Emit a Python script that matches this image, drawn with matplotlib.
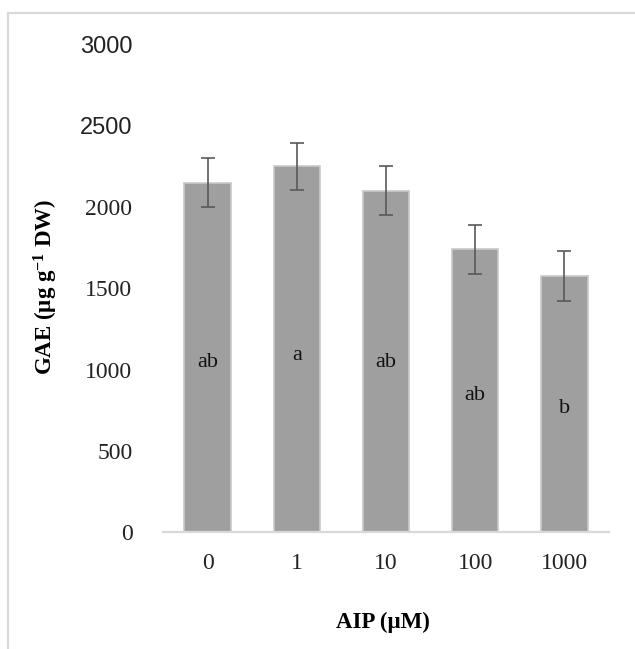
import matplotlib.pyplot as plt
from matplotlib.lines import Line2D

# data
doses = ["0", "1", "10", "100", "1000"]
gae = [2150, 2250, 2100, 1740, 1575]
gae_err = [150, 145, 150, 152, 152]
letters = ["ab", "a", "ab", "ab", "b"]
letter_y = [1046, 1089, 1046, 843, 763]
yticks = [0, 500, 1000, 1500, 2000, 2500, 3000]

plt.rcParams["mathtext.default"] = "regular"

W, H = 635, 649
fig = plt.figure(figsize=(W / 100, H / 100), dpi=100)
fig.patch.set_facecolor("white")

# light grey frame around the chart (left and top visible)
fx, fy = 8 / W, 1 - 12.5 / H
fig.add_artist(Line2D([fx, fx], [0, fy], transform=fig.transFigure, color="#d9d9d9", lw=1.6))
fig.add_artist(Line2D([fx, 1], [fy, fy], transform=fig.transFigure, color="#d9d9d9", lw=1.6))

left, right = 163 / W, 609 / W
bottom, top = 1 - 532 / H, 1 - 44.5 / H
ax = fig.add_axes([left, bottom, right - left, top - bottom])

x = range(len(doses))
ax.bar(x, gae, width=0.52, color="#9f9f9f", edgecolor="#c8c8c8", linewidth=1.2, zorder=2)
ax.errorbar(x, gae, yerr=gae_err, fmt="none", ecolor="#595959", elinewidth=1.2,
            capsize=4.8, capthick=1.2, zorder=3)

for i, (lab, ly) in enumerate(zip(letters, letter_y)):
    ax.text(i, ly, lab, ha="center", va="center", fontsize=16,
            family="Liberation Serif", color="#111111", zorder=4)

ax.set_xlim(-0.5, len(doses) - 0.5)
ax.set_ylim(0, 3000)
ax.set_xticks(list(x))
ax.set_xticklabels(doses, family="Liberation Serif", fontsize=17, color="#222222")
ax.set_yticks(yticks)
ax.set_yticklabels([str(v) for v in yticks], fontsize=17, color="#222222")
for t, v in zip(ax.get_yticklabels(), yticks):
    t.set_family("Liberation Sans" if v >= 2500 else "Liberation Serif")
ax.tick_params(axis="both", length=0)
ax.tick_params(axis="y", pad=22)
ax.tick_params(axis="x", pad=15)

for s in ["top", "right", "left"]:
    ax.spines[s].set_visible(False)
ax.spines["bottom"].set_color("#d9d9d9")
ax.spines["bottom"].set_linewidth(1.6)

fig.text(46 / W, 1 - 287 / H, "GAE (µg g$^{-1}$ DW)", rotation=90, ha="center", va="center",
         fontsize=16.5, fontweight="bold", family="Liberation Serif")
fig.text(383 / W, 1 - 622 / H, "AIP (µM)", ha="center", va="center",
         fontsize=16.5, fontweight="bold", family="Liberation Serif")

fig.savefig("out.png", dpi=100)
